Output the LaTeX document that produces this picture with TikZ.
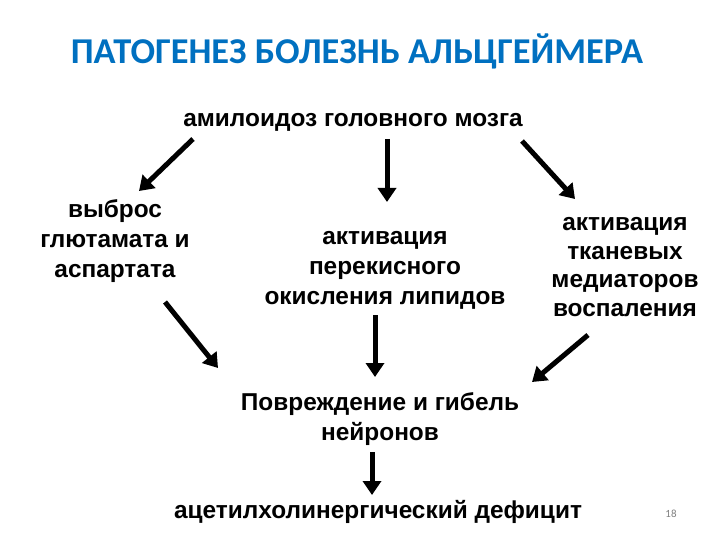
\documentclass[tikz,border=0pt]{standalone}
\usepackage{fontspec}
\setmainfont{Liberation Sans}
\newfontfamily\titlefont{Carlito}
\usepackage{xcolor}
\usepackage{tikz}
\usetikzlibrary{arrows.meta, calc}
\definecolor{slideblue}{RGB}{0,112,192}

\begin{document}
\begin{tikzpicture}[x=1bp, y=-1bp,
    txt/.style={align=center, inner sep=0pt, font=\fontsize{24.5}{30}\selectfont\bfseries},
    arr/.style={line width=5bp, -{Triangle[length=14bp, width=18bp]}}]
    \useasboundingbox (0,0) rectangle (720,540);
    \node[text=slideblue, font=\titlefont\fontsize{36.5}{40}\selectfont\bfseries] (title) at (357,51) {ПАТОГЕНЕЗ БОЛЕЗНЬ АЛЬЦГЕЙМЕРА};
    \node[txt] (amyl) at (353,122) {амилоидоз головного мозга};
    \node[txt] (glut) at (115,241) {выброс\\глютамата и\\аспартата};
    \node[txt] (lipid) at (385,270) {активация\\перекисного\\окисления липидов};
    \node[txt, font=\fontsize{24.5}{29}\selectfont\bfseries] (infl) at (625,267) {активация\\тканевых\\медиаторов\\воспаления};
    \node[txt] (damage) at (380,419) {Повреждение и гибель\\нейронов};
    \node[txt] (deficit) at (378,512) {ацетилхолинергический дефицит};
    \node[text=gray, font=\titlefont\fontsize{11}{13}\selectfont] (page) at (671,514) {18};
    % first row
    \draw[arr] ($(amyl.center)+(-160,17)$) -- ($(glut.center)+(24,-50)$);
    \draw[arr] ($(amyl.center)+(34,17)$) -- ($(lipid.center)+(2,-68)$);
    \draw[arr] ($(amyl.center)+(169,19)$) -- ($(infl.center)+(-50,-68)$);
    % second row
    \draw[arr] ($(glut.center)+(50,61)$) -- ($(damage.center)+(-162,-51)$);
    \draw[arr] ($(lipid.center)+(-10,45)$) -- ($(damage.center)+(-5,-42)$);
    \draw[arr] ($(infl.center)+(-37,68)$) -- ($(damage.center)+(152,-37)$);
    \draw[arr] ($(damage.center)+(-8,33)$) -- ($(deficit.center)+(-6,-17)$);
\end{tikzpicture}
\end{document}
